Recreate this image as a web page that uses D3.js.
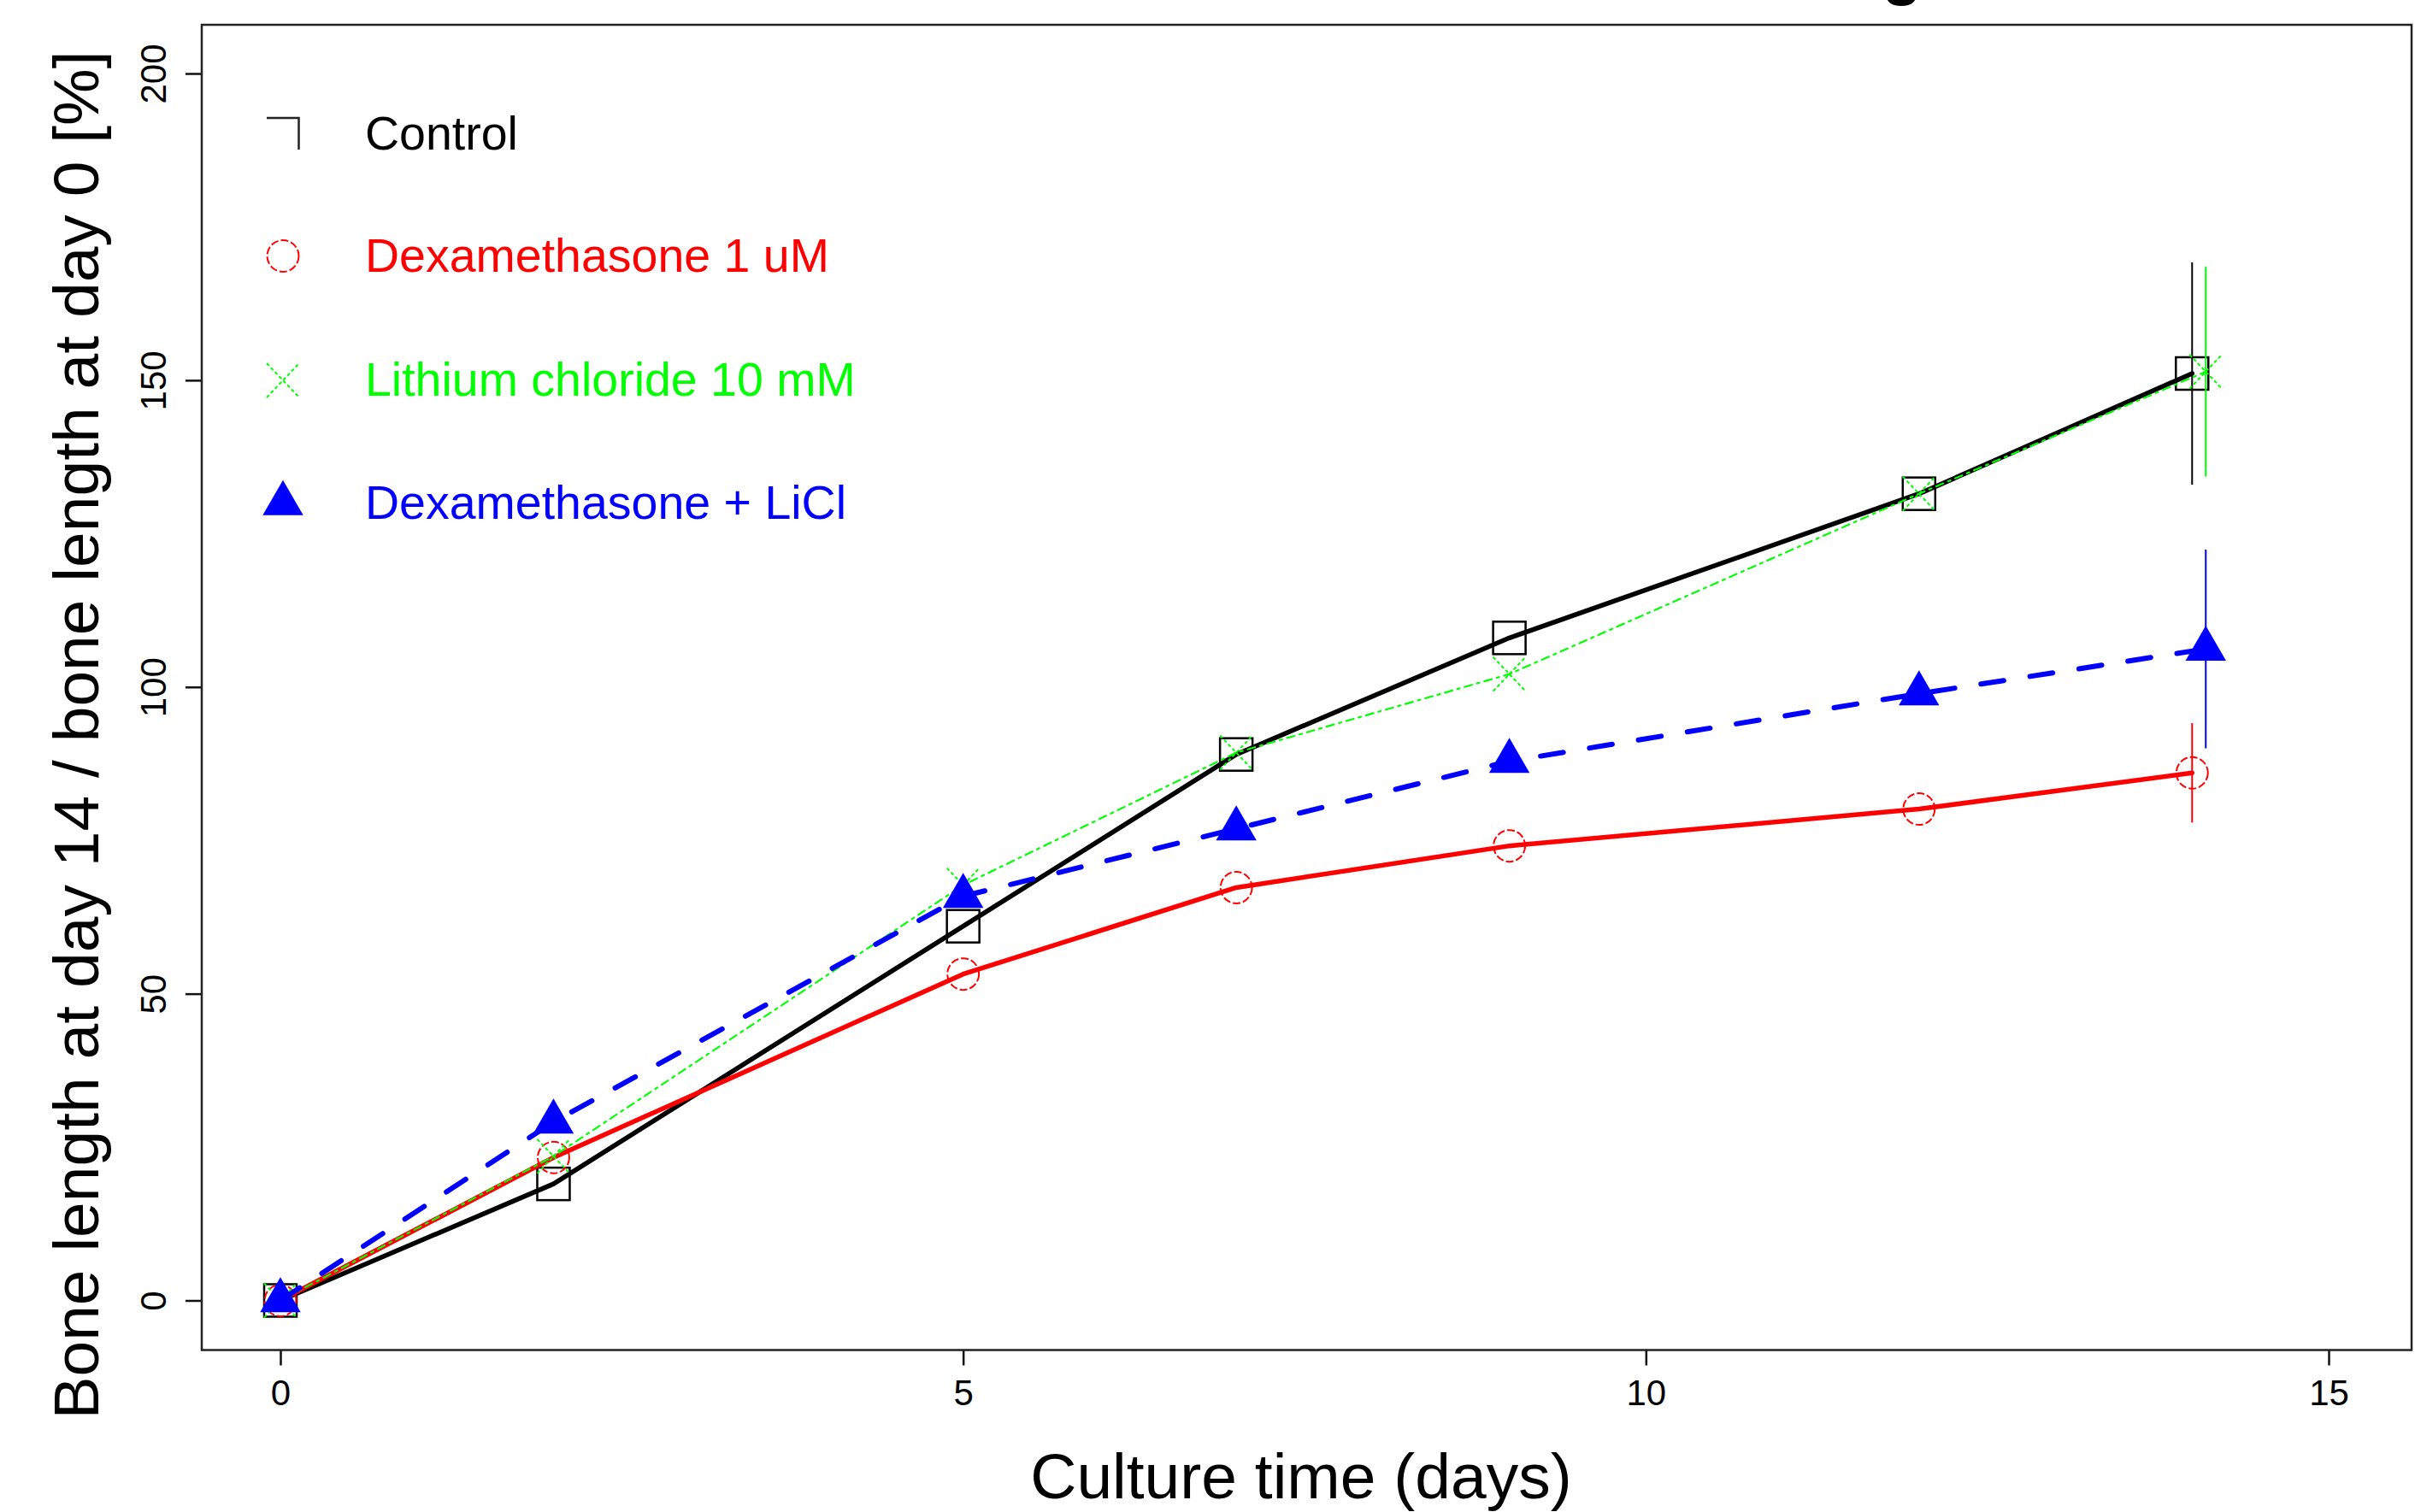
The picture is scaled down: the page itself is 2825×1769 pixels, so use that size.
<!DOCTYPE html>
<html lang="en">
<head>
    <meta charset="UTF-8">
    <title>Bone length over culture time</title>
    <script src="https://d3js.org/d3.v7.min.js"></script>
    <style>
        body{ margin:0; background:#fff; }
        svg{ display:block; font-family: "Liberation Sans", Arial, sans-serif; }
    </style>
</head>
<body>
<svg width="2825" height="1769"></svg>
<script>
    // data (percent of day-0 bone length)
    const seriesNames = ["Control", "Dexamethasone 1 uM", "Lithium chloride 10 mM", "Dexamethasone + LiCl"];
    const daysControl = [0, 2, 5, 7, 9, 12, 14];
    const daysDex     = [0, 2, 5, 7, 9, 12, 14];
    const daysLicl    = [0, 2, 5, 7, 9, 12, 14.1];
    const daysBoth    = [0, 2, 5, 7, 9, 12, 14.1];
    const control = [0, 19, 61, 89, 108, 131.5, 151.1];
    const dex     = [0, 23.3, 53.2, 67.3, 74.1, 80.1, 86];
    const licl    = [0, 23.5, 67.7, 89.3, 102.1, 131.5, 151.4];
    const both    = [0, 29.1, 65.9, 76.9, 87.9, 98.9, 106.2];
    // error bar half-widths (only visible at day 14)
    const controlErr = [0, 0, 0, 0, 0, 0, 18.1];
    const dexErr     = [0, 0, 0, 0, 0, 0, 8.1];
    const liclErr    = [0, 0, 0, 0, 0, 0, 17.1];
    const bothErr    = [0, 0, 0, 0, 0, 0, 16.2];
    const xTicks = [0, 5, 10, 15];
    const yTicks = [0, 50, 100, 150, 200];

    const svg = d3.select('svg');
    const box = {left: 236, right: 2821, top: 29, bottom: 1579.5};

    const x = d3.scaleLinear().domain([0, 15]).range([328, 2724]);
    const y = d3.scaleLinear().domain([0, 200]).range([1521.5, 86]);

    // clipped title remnant at the very top (cut off in the original too)
    svg.append('text')
        .attr('x', 2225).attr('y', -9)
        .attr('text-anchor', 'middle')
        .attr('font-size', 76).attr('font-weight', 'bold')
        .text('g');

    //------------------------------------
    // axes
    const xAxis = svg.append('g')
        .attr('transform', `translate(0,${box.bottom})`)
        .call(d3.axisBottom(x).tickValues(xTicks).tickSize(18).tickFormat(d3.format('d')));
    xAxis.select('.domain').remove();
    xAxis.selectAll('line').attr('stroke', '#111').attr('stroke-width', 2.5);
    xAxis.selectAll('text')
        .attr('y', 64.5).attr('dy', 0)
        .attr('font-size', 42).attr('fill', '#000')
        .attr('font-family', '"Liberation Sans", Arial, sans-serif');

    const yAxis = svg.append('g')
        .attr('transform', `translate(${box.left},0)`)
        .call(d3.axisLeft(y).tickValues(yTicks).tickSize(19).tickFormat(d3.format('d')));
    yAxis.select('.domain').remove();
    yAxis.selectAll('line').attr('stroke', '#111').attr('stroke-width', 2.5);
    yAxis.selectAll('text')
        .attr('transform', 'rotate(-90)')
        .attr('x', 0).attr('y', -42).attr('dy', 0)
        .attr('text-anchor', 'middle')
        .attr('font-size', 42).attr('fill', '#000')
        .attr('font-family', '"Liberation Sans", Arial, sans-serif');

    // plot frame
    svg.append('rect')
        .attr('x', box.left).attr('y', box.top)
        .attr('width', box.right - box.left).attr('height', box.bottom - box.top)
        .attr('fill', 'none').attr('stroke', '#222').attr('stroke-width', 2.5);

    // axis titles
    svg.append('text')
        .attr('x', 1522).attr('y', 1753)
        .attr('text-anchor', 'middle').attr('font-size', 75)
        .text('Culture time (days)');
    svg.append('text')
        .attr('transform', 'translate(115,860) rotate(-90)')
        .attr('text-anchor', 'middle').attr('font-size', 75)
        .text('Bone length at day 14 / bone length at day 0 [%]');

    //------------------------------------
    // markers
    const TRI = 17.6;
    function drawMarker(g, shape, color){
        if(shape === 'square'){
            g.append('rect').attr('x', -19).attr('y', -19).attr('width', 38).attr('height', 38)
                .attr('fill', 'none').attr('stroke', color).attr('stroke-width', 2.5);
        } else if(shape === 'circle'){
            g.append('circle').attr('r', 18.5)
                .attr('fill', 'none').attr('stroke', color).attr('stroke-width', 2)
                .attr('stroke-dasharray', '9,3');
        } else if(shape === 'cross'){
            g.append('path').attr('d', 'M-19,-20L19,20M-19,20L19,-20')
                .attr('fill', 'none').attr('stroke', color).attr('stroke-width', 2)
                .attr('stroke-dasharray', '4,3');
        } else {
            const p = d3.path();
            p.moveTo(0, -1.555 * TRI);
            p.lineTo(1.347 * TRI, 0.778 * TRI);
            p.lineTo(-1.347 * TRI, 0.778 * TRI);
            p.closePath();
            g.append('path').attr('d', p.toString()).attr('fill', color);
        }
    }

    const series = [
        {name: seriesNames[0], days: daysControl, vals: control, err: controlErr, color: '#000000', width: 5.5, dash: null, shape: 'square'},
        {name: seriesNames[1], days: daysDex, vals: dex, err: dexErr, color: '#ff0000', width: 5.5, dash: null, shape: 'circle'},
        {name: seriesNames[2], days: daysLicl, vals: licl, err: liclErr, color: '#00ff00', width: 2.2, dash: '3,6,9,6', shape: 'cross'},
        {name: seriesNames[3], days: daysBoth, vals: both, err: bothErr, color: '#0000ff', width: 6, dash: '27,31', shape: 'triangle'}
    ];

    const line = d3.line().x(d => x(d[0])).y(d => y(d[1]));

    series.forEach(s => {
        const pts = s.days.map((d, i) => [d, s.vals[i], s.err[i]]);
        const g = svg.append('g');
        g.append('path')
            .attr('d', line(pts))
            .attr('fill', 'none').attr('stroke', s.color)
            .attr('stroke-width', s.width)
            .attr('stroke-linecap', 'round').attr('stroke-linejoin', 'round')
            .attr('stroke-dasharray', s.dash);
        pts.filter(p => p[2] > 0).forEach(p => {
            g.append('line')
                .attr('x1', x(p[0])).attr('x2', x(p[0]))
                .attr('y1', y(p[1] - p[2])).attr('y2', y(p[1] + p[2]))
                .attr('stroke', s.color).attr('stroke-width', 2);
        });
        pts.forEach(p => {
            const m = g.append('g').attr('transform', `translate(${x(p[0])},${y(p[1])})`);
            drawMarker(m, s.shape, s.color);
        });
    });

    //------------------------------------
    // legend
    const legend = svg.append('g').attr('transform', 'translate(331,0)');
    const legendY = [156.5, 299.5, 445, 589];
    series.forEach((s, i) => {
        const row = legend.append('g').attr('transform', `translate(0,${legendY[i]})`);
        if(s.shape === 'square'){
            row.append('path').attr('d', 'M-19,-18.5L18.5,-18.5L18.5,18.5')
                .attr('fill', 'none').attr('stroke', '#222').attr('stroke-width', 2.5);
        } else {
            drawMarker(row, s.shape, s.color);
        }
        row.append('text')
            .attr('x', 96).attr('y', 18)
            .attr('font-size', 55.5).attr('fill', s.color)
            .text(s.name);
    });
</script>
</body>
</html>
